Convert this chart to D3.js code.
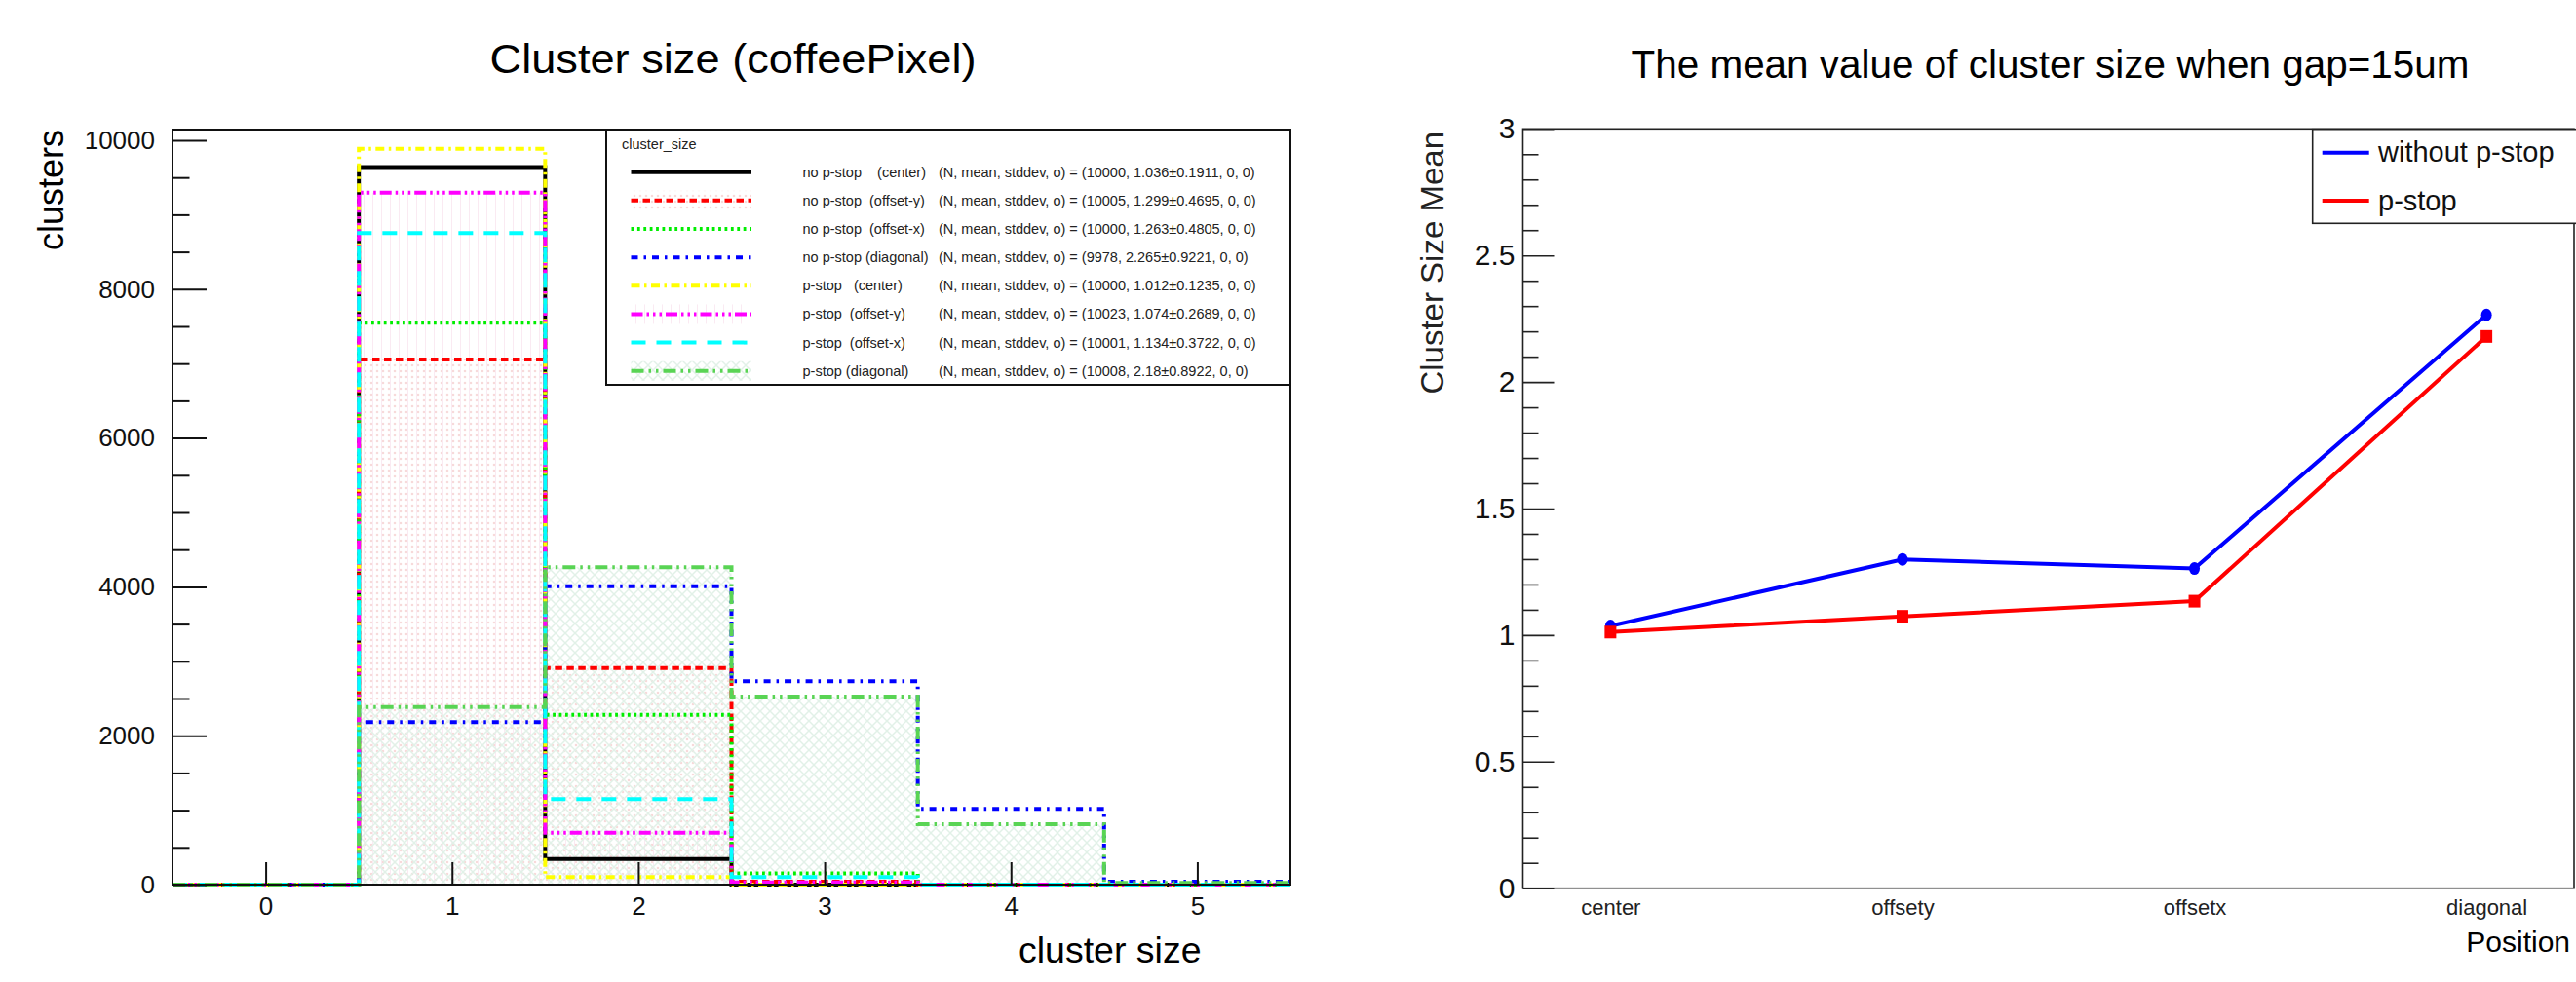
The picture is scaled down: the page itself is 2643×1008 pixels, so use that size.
<!DOCTYPE html>
<html>
<head>
<meta charset="utf-8">
<script src="https://cdn.jsdelivr.net/npm/d3@7"></script>
<style>
body { margin: 0; background: #fff; }
#chart { width: 2643px; height: 1008px; }
svg { display: block; font-family: "Liberation Sans", Arial, sans-serif; }
</style>
</head>
<body>
<div id="chart"></div>
<script>

/*
DATA
*/
const bins = [0, 1, 2, 3, 4, 5];

const noPstopCenter   = [0, 9640, 345, 0, 0, 0];
const noPstopOffsetY  = [0, 7055, 2910, 40, 0, 0];
const noPstopOffsetX  = [0, 7550, 2280, 150, 0, 0];
const noPstopDiagonal = [0, 2182, 4009, 2731, 1017, 39];
const pstopCenter     = [0, 9885, 100, 0, 0, 0];
const pstopOffsetY    = [0, 9297, 698, 28, 0, 0];
const pstopOffsetX    = [0, 8752, 1147, 100, 0, 0];
const pstopDiagonal   = [0, 2386, 4263, 2526, 811, 22];

const histLabels = [
    "no p-stop    (center)",
    "no p-stop  (offset-y)",
    "no p-stop  (offset-x)",
    "no p-stop (diagonal)",
    "p-stop   (center)",
    "p-stop  (offset-y)",
    "p-stop  (offset-x)",
    "p-stop (diagonal)"
];
const histStats = [
    "(N, mean, stddev, o) = (10000, 1.036\u00b10.1911, 0, 0)",
    "(N, mean, stddev, o) = (10005, 1.299\u00b10.4695, 0, 0)",
    "(N, mean, stddev, o) = (10000, 1.263\u00b10.4805, 0, 0)",
    "(N, mean, stddev, o) = (9978, 2.265\u00b10.9221, 0, 0)",
    "(N, mean, stddev, o) = (10000, 1.012\u00b10.1235, 0, 0)",
    "(N, mean, stddev, o) = (10023, 1.074\u00b10.2689, 0, 0)",
    "(N, mean, stddev, o) = (10001, 1.134\u00b10.3722, 0, 0)",
    "(N, mean, stddev, o) = (10008, 2.18\u00b10.8922, 0, 0)"
];
const leftYTicks = [0, 2000, 4000, 6000, 8000, 10000];

const positions = ["center", "offsety", "offsetx", "diagonal"];
const meanWithout = [1.036, 1.299, 1.263, 2.265];
const meanWith    = [1.012, 1.074, 1.134, 2.18];
const rightYTicks = [0, 0.5, 1, 1.5, 2, 2.5, 3];
const seriesNames = ["without p-stop", "p-stop"];

/*
STYLES
*/
const histSeries = [noPstopCenter, noPstopOffsetY, noPstopOffsetX, noPstopDiagonal,
                    pstopCenter, pstopOffsetY, pstopOffsetX, pstopDiagonal];
const histStyle = [
    {color: "#000000", dash: null,                         fill: null},
    {color: "#ff0000", dash: "7.5 4.5",                    fill: "url(#dotsPink)"},
    {color: "#00ee00", dash: "2.8 3.6",                    fill: null},
    {color: "#0000ff", dash: "7 6 2.5 6",                  fill: null},
    {color: "#ffff00", dash: "9 4.5 2.5 4.5",              fill: null},
    {color: "#ff00ff", dash: "12 4 2.5 4 2.5 4 2.5 4",     fill: "url(#vlinesPink)"},
    {color: "#00ffff", dash: "15 11",                      fill: null},
    {color: "#59d454", dash: "13 5 2.5 5 2.5 5",           fill: "url(#hatchGreen)"}
];

/*
CANVAS
*/
const width = 2643;
const height = 1008;

const svg = d3.select("#chart")
    .append("svg")
    .attr("width", width)
    .attr("height", height);

svg.append("rect").attr("width", width).attr("height", height).attr("fill", "#fff");

const defs = svg.append("defs");

const pDots = defs.append("pattern").attr("id", "dotsPink")
    .attr("width", 6).attr("height", 6).attr("patternUnits", "userSpaceOnUse");
pDots.append("circle").attr("cx", 3).attr("cy", 3).attr("r", 1.3).attr("fill", "#f7dada");

const pV = defs.append("pattern").attr("id", "vlinesPink")
    .attr("width", 9).attr("height", 9).attr("patternUnits", "userSpaceOnUse");
pV.append("line").attr("x1", 4.5).attr("x2", 4.5).attr("y1", 0).attr("y2", 9)
    .attr("stroke", "#faeaf2").attr("stroke-width", 1);

const pH = defs.append("pattern").attr("id", "hatchGreen")
    .attr("width", 10).attr("height", 10).attr("patternUnits", "userSpaceOnUse");
pH.append("path").attr("d", "M0,10 L10,0 M-2,2 L2,-2 M8,12 L12,8 M0,0 L10,10")
    .attr("stroke", "#e2f1e8").attr("stroke-width", 1.5);

/*
LEFT PANEL : HISTOGRAMS
*/
const L = {left: 177, right: 1324, top: 133, bottom: 908};

const xScale = d3.scaleLinear().domain([-0.5, 5.5]).range([L.left, L.right]);
const yScale = d3.scaleLinear().domain([0, 10144]).range([L.bottom, L.top]);

function stepPoints(vals) {
    const pts = bins.map(function(b, i) { return {x: b - 0.5, y: vals[i]}; });
    pts.push({x: bins[bins.length - 1] + 0.5, y: vals[vals.length - 1]});
    return pts;
}

const stepLine = d3.line()
    .x(function(d) { return xScale(d.x); })
    .y(function(d) { return yScale(d.y); })
    .curve(d3.curveStepAfter);

const stepArea = d3.area()
    .x(function(d) { return xScale(d.x); })
    .y0(yScale(0))
    .y1(function(d) { return yScale(d.y); })
    .curve(d3.curveStepAfter);

// fills first
histSeries.forEach(function(vals, i) {
    if (!histStyle[i].fill) return;
    svg.append("path")
        .attr("d", stepArea(stepPoints(vals)))
        .attr("fill", histStyle[i].fill);
});

// then outlines in drawing order
histSeries.forEach(function(vals, i) {
    svg.append("path")
        .attr("d", stepLine(stepPoints(vals)))
        .attr("fill", "none")
        .attr("stroke", histStyle[i].color)
        .attr("stroke-width", 4)
        .attr("stroke-dasharray", histStyle[i].dash);
});

// frame
svg.append("rect")
    .attr("x", L.left).attr("y", L.top)
    .attr("width", L.right - L.left).attr("height", L.bottom - L.top)
    .attr("fill", "none").attr("stroke", "#111").attr("stroke-width", 2);

// y axis (ticks inside)
svg.append("g")
    .attr("transform", `translate(${L.left},0)`)
    .call(d3.axisLeft(yScale).tickValues(leftYTicks).tickSizeInner(-35).tickSizeOuter(0).tickPadding(18)
        .tickFormat(d3.format("d")))
    .call(function(g) { g.select(".domain").remove(); })
    .attr("font-size", 26).attr("font-family", null)
    .call(function(g) { g.selectAll("line").attr("stroke", "#111").attr("stroke-width", 2); })
    .call(function(g) { g.selectAll("text").attr("fill", "#111"); });

svg.append("g")
    .attr("transform", `translate(${L.left},0)`)
    .call(d3.axisLeft(yScale)
        .tickValues(d3.range(0, 10001, 500).filter(function(v) { return v % 2000 !== 0; }))
        .tickSizeInner(-17.5).tickSizeOuter(0).tickFormat(""))
    .call(function(g) { g.select(".domain").remove(); })
    .call(function(g) { g.selectAll("line").attr("stroke", "#111").attr("stroke-width", 2); });

// x axis (ticks upward)
svg.append("g")
    .attr("transform", `translate(0,${L.bottom})`)
    .call(d3.axisBottom(xScale).tickValues(bins).tickSizeInner(-23).tickSizeOuter(0).tickPadding(13)
        .tickFormat(d3.format("d")))
    .call(function(g) { g.select(".domain").remove(); })
    .attr("font-size", 26).attr("font-family", null)
    .call(function(g) { g.selectAll("line").attr("stroke", "#111").attr("stroke-width", 2); })
    .call(function(g) { g.selectAll("text").attr("fill", "#111"); });

// titles
svg.append("text")
    .attr("x", 752).attr("y", 75)
    .attr("text-anchor", "middle")
    .attr("font-size", 43)
    .attr("textLength", 499).attr("lengthAdjust", "spacingAndGlyphs")
    .text("Cluster size (coffeePixel)");

svg.append("text")
    .attr("transform", "translate(65,133) rotate(-90)")
    .attr("text-anchor", "end")
    .attr("font-size", 36)
    .text("clusters");

svg.append("text")
    .attr("x", 1045).attr("y", 988)
    .attr("font-size", 37.5)
    .text("cluster size");

// legend
const leg = svg.append("g");
leg.append("rect")
    .attr("x", 622).attr("y", L.top)
    .attr("width", L.right - 622).attr("height", 395 - L.top)
    .attr("fill", "#fff").attr("stroke", "#111").attr("stroke-width", 2);

leg.append("text")
    .attr("x", 638).attr("y", 153)
    .attr("font-size", 14.5).attr("fill", "#222")
    .text("cluster_size");

histLabels.forEach(function(label, i) {
    const cy = 176.7 + i * 29.15;
    if (histStyle[i].fill) {
        leg.append("rect")
            .attr("x", 647.5).attr("y", cy - 10)
            .attr("width", 123.5).attr("height", 20)
            .attr("fill", histStyle[i].fill);
    }
    leg.append("line")
        .attr("x1", 647.5).attr("x2", 771)
        .attr("y1", cy).attr("y2", cy)
        .attr("stroke", histStyle[i].color)
        .attr("stroke-width", 4)
        .attr("stroke-dasharray", histStyle[i].dash);
    leg.append("text")
        .attr("x", 823.5).attr("y", cy + 5)
        .attr("font-size", 14.5).attr("fill", "#222")
        .attr("xml:space", "preserve")
        .style("white-space", "pre")
        .text(label);
    leg.append("text")
        .attr("x", 963).attr("y", cy + 5)
        .attr("font-size", 14.5).attr("fill", "#222")
        .text(histStats[i]);
});

/*
RIGHT PANEL : MEAN CLUSTER SIZE
*/
const R = {left: 1562.5, right: 2641, top: 132.3, bottom: 911.7};

const xPos = d3.scaleLinear().domain([0.7, 4.3]).range([R.left, R.right]);
const yMean = d3.scaleLinear().domain([0, 3]).range([R.bottom, R.top]);

svg.append("rect")
    .attr("x", R.left).attr("y", R.top)
    .attr("width", R.right - R.left).attr("height", R.bottom - R.top)
    .attr("fill", "none").attr("stroke", "#222").attr("stroke-width", 1.6);

svg.append("g")
    .attr("transform", `translate(${R.left},0)`)
    .call(d3.axisLeft(yMean).tickValues(rightYTicks).tickSizeInner(-32).tickSizeOuter(0).tickPadding(8)
        .tickFormat(d3.format("~g")))
    .call(function(g) { g.select(".domain").remove(); })
    .attr("font-size", 30).attr("font-family", null)
    .call(function(g) { g.selectAll("line").attr("stroke", "#222").attr("stroke-width", 1.6); })
    .call(function(g) { g.selectAll("text").attr("fill", "#111"); });

svg.append("g")
    .attr("transform", `translate(${R.left},0)`)
    .call(d3.axisLeft(yMean)
        .tickValues(d3.range(1, 30).filter(function(v) { return v % 5 !== 0; }).map(function(v) { return v / 10; }))
        .tickSizeInner(-16).tickSizeOuter(0).tickFormat(""))
    .call(function(g) { g.select(".domain").remove(); })
    .call(function(g) { g.selectAll("line").attr("stroke", "#222").attr("stroke-width", 1.6); });

svg.append("g")
    .attr("transform", `translate(0,${R.bottom})`)
    .call(d3.axisBottom(xPos).tickValues([1, 2, 3, 4]).tickSize(0).tickPadding(12)
        .tickFormat(function(d) { return positions[d - 1]; }))
    .call(function(g) { g.select(".domain").remove(); })
    .attr("font-size", 22).attr("font-family", null)
    .call(function(g) { g.selectAll("text").attr("fill", "#222"); });

const meanLine = d3.line()
    .x(function(d, i) { return xPos(i + 1); })
    .y(function(d) { return yMean(d); });

svg.append("path")
    .attr("d", meanLine(meanWithout))
    .attr("fill", "none").attr("stroke", "#0000ff").attr("stroke-width", 4);
svg.selectAll(".dotWithout")
    .data(meanWithout)
    .enter()
    .append("ellipse")
        .attr("class", "dotWithout")
        .attr("cx", function(d, i) { return xPos(i + 1); })
        .attr("cy", function(d) { return yMean(d); })
        .attr("rx", 5.5).attr("ry", 6.5)
        .attr("fill", "#0000ff");

svg.append("path")
    .attr("d", meanLine(meanWith))
    .attr("fill", "none").attr("stroke", "#ff0000").attr("stroke-width", 4);
svg.selectAll(".dotWith")
    .data(meanWith)
    .enter()
    .append("rect")
        .attr("class", "dotWith")
        .attr("x", function(d, i) { return xPos(i + 1) - 6; })
        .attr("y", function(d) { return yMean(d) - 6.5; })
        .attr("width", 12).attr("height", 13)
        .attr("fill", "#ff0000");

svg.append("text")
    .attr("x", 2103.5).attr("y", 80)
    .attr("text-anchor", "middle")
    .attr("font-size", 40)
    .attr("textLength", 860).attr("lengthAdjust", "spacingAndGlyphs")
    .text("The mean value of cluster size when gap=15um");

svg.append("text")
    .attr("transform", "translate(1481,135) rotate(-90)")
    .attr("text-anchor", "end")
    .attr("font-size", 33).attr("fill", "#222")
    .text("Cluster Size Mean");

svg.append("text")
    .attr("x", 2637).attr("y", 977)
    .attr("text-anchor", "end")
    .attr("font-size", 30)
    .text("Position");

// legend
const leg2 = svg.append("g");
leg2.append("rect")
    .attr("x", 2372.7).attr("y", 132.7)
    .attr("width", 2643 - 2372.7 + 2).attr("height", 96.6)
    .attr("fill", "#fff").attr("stroke", "#222").attr("stroke-width", 1.6);

[["#0000ff", 156.7], ["#ff0000", 206]].forEach(function(s, i) {
    leg2.append("line")
        .attr("x1", 2382.7).attr("x2", 2430.7)
        .attr("y1", s[1]).attr("y2", s[1])
        .attr("stroke", s[0]).attr("stroke-width", 4);
    leg2.append("text")
        .attr("x", 2440).attr("y", s[1] + 9.5)
        .attr("font-size", 29).attr("fill", "#111")
        .text(seriesNames[i]);
});

</script>
</body>
</html>
